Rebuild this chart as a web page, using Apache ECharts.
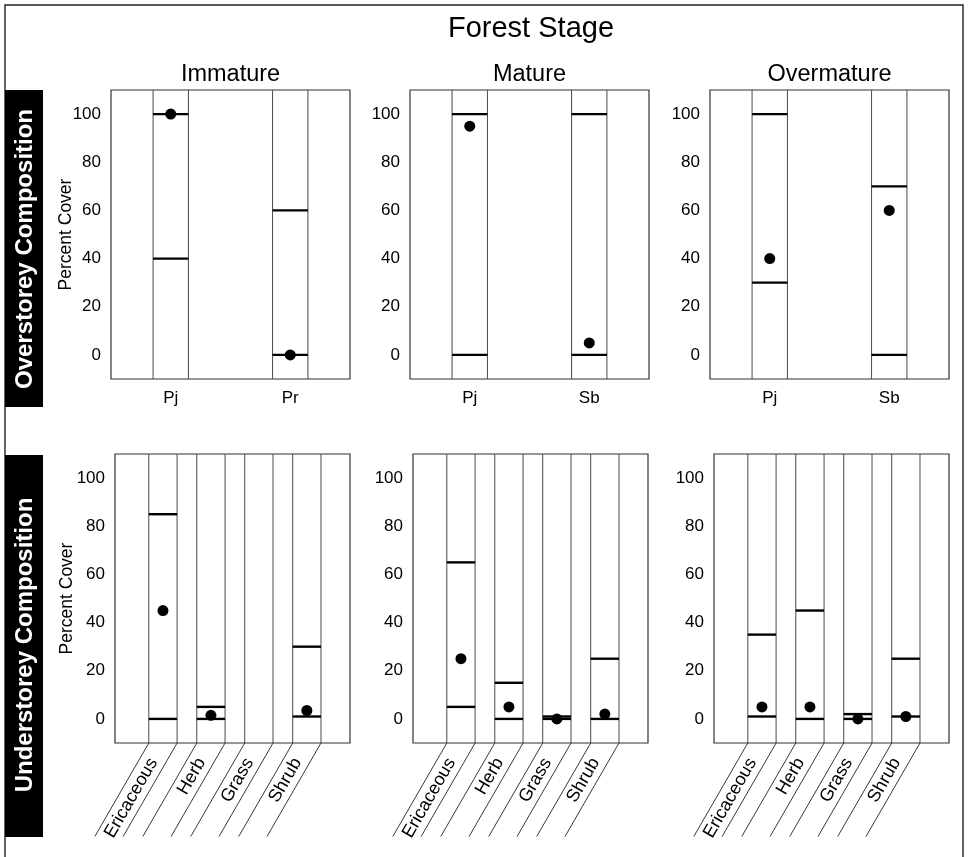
<!DOCTYPE html>
<html><head><meta charset="utf-8">
<script src="https://cdn.jsdelivr.net/npm/echarts@6/dist/echarts.min.js"></script>
<style>html,body{margin:0;padding:0;background:#fff}#c{width:969px;height:857px}</style>
</head><body><div id="c"></div>
<script>
// ---- data ----
const stages = ['Immature', 'Mature', 'Overmature'];
const overCats = [['Pj', 'Pr'], ['Pj', 'Sb'], ['Pj', 'Sb']];
const overMin = [[40, 0], [0, 0], [30, 0]];
const overMax = [[100, 60], [100, 100], [100, 70]];
const overDot = [[100, 0], [95, 5], [40, 60]];
const underCats = ['Ericaceous', 'Herb', 'Grass', 'Shrub'];
const underMin = [[0, 0, null, 1], [5, 0, 0, 0], [1, 0, 0, 1]];
const underMax = [[85, 5, null, 30], [65, 15, 1, 25], [35, 45, 2, 25]];
const underDot = [[45, 1.5, null, 3.5], [25, 5, 0, 2], [5, 5, 0, 1]];
const yTicks = [0, 20, 40, 60, 80, 100];

// ---- layout ----
const FONT = 'Liberation Sans, Arial, Helvetica, sans-serif';
const topLefts = [111, 410, 710], topW = 239, topTop = 90, topH = 289;
const botLefts = [115, 413, 714], botW = 235, botTop = 454, botH = 289;
const Y0 = -10, Y1 = 110;

const chart = echarts.init(document.getElementById('c'), null, {renderer: 'canvas'});

const grids = [], xAxes = [], yAxes = [], series = [];

function makeBandRender(hw, slanted, cats) {
  return function (params, api) {
    const c = api.value(0), lo = api.value(1), hi = api.value(2);
    const ch = [];
    [c - hw, c + hw].forEach(function (x) {
      const p0 = api.coord([x, Y0]), p1 = api.coord([x, Y1]);
      ch.push({type: 'line', shape: {x1: p0[0], y1: p0[1], x2: p1[0], y2: p1[1]},
        style: {stroke: '#4a4a4a', lineWidth: 1}});
      if (slanted) {
        const L = 108;
        ch.push({type: 'line', shape: {x1: p0[0], y1: p0[1],
          x2: p0[0] - L * Math.cos(Math.PI / 3), y2: p0[1] + L * Math.sin(Math.PI / 3)},
          style: {stroke: '#222', lineWidth: 0.9}});
      }
    });
    [lo, hi].forEach(function (v) {
      if (isNaN(v)) return;
      const a = api.coord([c - hw, v]), b = api.coord([c + hw, v]);
      ch.push({type: 'line', z2: 5, shape: {x1: a[0], y1: a[1], x2: b[0], y2: b[1]},
        style: {stroke: '#000', lineWidth: 2.4}});
    });
    if (slanted) {
      const pc = api.coord([c, Y0]);
      const d = 19;
      ch.push({type: 'text', x: pc[0] - d * Math.cos(Math.PI / 3), y: pc[1] + d * Math.sin(Math.PI / 3),
        rotation: Math.PI / 3,
        style: {text: cats[params.dataIndex], x: 0, y: 0, fill: '#000',
          font: '18px ' + FONT, align: 'right', verticalAlign: 'middle',
          textAlign: 'right', textVerticalAlign: 'middle'}});
    }
    return {type: 'group', children: ch};
  };
}

for (let r = 0; r < 2; r++) {
  for (let k = 0; k < 3; k++) {
    const gi = grids.length;
    const isTop = r === 0;
    grids.push({left: isTop ? topLefts[k] : botLefts[k], top: isTop ? topTop : botTop,
      width: isTop ? topW : botW, height: isTop ? topH : botH,
      show: true, borderColor: '#333', borderWidth: 1.2, backgroundColor: 'transparent'});
    const cats = isTop ? overCats[k] : underCats;
    const catVals = cats.map(function (_, i) { return i + 1; });
    xAxes.push({gridIndex: gi, type: 'value', min: isTop ? 0.5 : 0, max: isTop ? 2.5 : 4.9,
      axisLine: {show: false}, axisTick: {show: false}, splitLine: {show: false},
      axisLabel: {show: isTop, customValues: catVals, margin: 11,
        formatter: function (v) { return cats[Math.round(v) - 1] || ''; },
        color: '#000', fontSize: 17, fontFamily: FONT}});
    yAxes.push({gridIndex: gi, type: 'value', min: Y0, max: Y1,
      name: k === 0 ? 'Percent Cover' : '', nameLocation: 'middle', nameRotate: 90,
      nameGap: isTop ? 36 : 39, nameMoveOverlap: false,
      nameTextStyle: {color: '#000', fontSize: 17.5, fontFamily: FONT},
      axisLine: {show: false}, axisTick: {show: false}, splitLine: {show: false},
      axisLabel: {customValues: yTicks, margin: 10, color: '#000', fontSize: 17, fontFamily: FONT}});
    const mins = isTop ? overMin[k] : underMin[k];
    const maxs = isTop ? overMax[k] : underMax[k];
    const dots = isTop ? overDot[k] : underDot[k];
    const hw = isTop ? 0.148 : 0.295;
    series.push({type: 'custom', xAxisIndex: gi, yAxisIndex: gi, clip: false, silent: true,
      renderItem: makeBandRender(hw, !isTop, cats),
      encode: {x: 0, y: [1, 2]},
      data: catVals.map(function (c, i) {
        return [c, mins[i] == null ? '-' : mins[i], maxs[i] == null ? '-' : maxs[i]];
      })});
    series.push({type: 'scatter', xAxisIndex: gi, yAxisIndex: gi, z: 10, silent: true,
      symbol: 'circle', symbolSize: 11, itemStyle: {color: '#000', opacity: 1},
      data: catVals.map(function (c, i) { return dots[i] == null ? null : [c, dots[i]]; })
        .filter(function (d) { return d; })});
  }
}

const graphics = [
  {type: 'rect', shape: {x: 5, y: 5, width: 958, height: 920}, style: {fill: 'none', stroke: '#222', lineWidth: 1.4}},
  {type: 'text', x: 531, y: 29, style: {text: 'Forest Stage', font: '29px ' + FONT, fill: '#000',
    align: 'center', verticalAlign: 'middle', textAlign: 'center', textVerticalAlign: 'middle'}},
  {type: 'rect', shape: {x: 5, y: 90, width: 38, height: 317}, style: {fill: '#000'}},
  {type: 'rect', shape: {x: 5, y: 455, width: 38, height: 382}, style: {fill: '#000'}},
  {type: 'text', x: 25, y: 249, rotation: Math.PI / 2, style: {text: 'Overstorey Composition',
    font: 'bold 24px ' + FONT, fill: '#fff', align: 'center', verticalAlign: 'middle',
    textAlign: 'center', textVerticalAlign: 'middle'}},
  {type: 'text', x: 25, y: 645, rotation: Math.PI / 2, style: {text: 'Understorey Composition',
    font: 'bold 24px ' + FONT, fill: '#fff', align: 'center', verticalAlign: 'middle',
    textAlign: 'center', textVerticalAlign: 'middle'}}
];
stages.forEach(function (s, k) {
  graphics.push({type: 'text', x: topLefts[k] + topW / 2, y: 75, style: {text: s, font: '23.5px ' + FONT,
    fill: '#000', align: 'center', verticalAlign: 'middle', textAlign: 'center', textVerticalAlign: 'middle'}});
});

chart.setOption({
  animation: false,
  backgroundColor: '#fff',
  grid: grids, xAxis: xAxes, yAxis: yAxes, series: series,
  graphic: graphics
});
</script></body></html>
